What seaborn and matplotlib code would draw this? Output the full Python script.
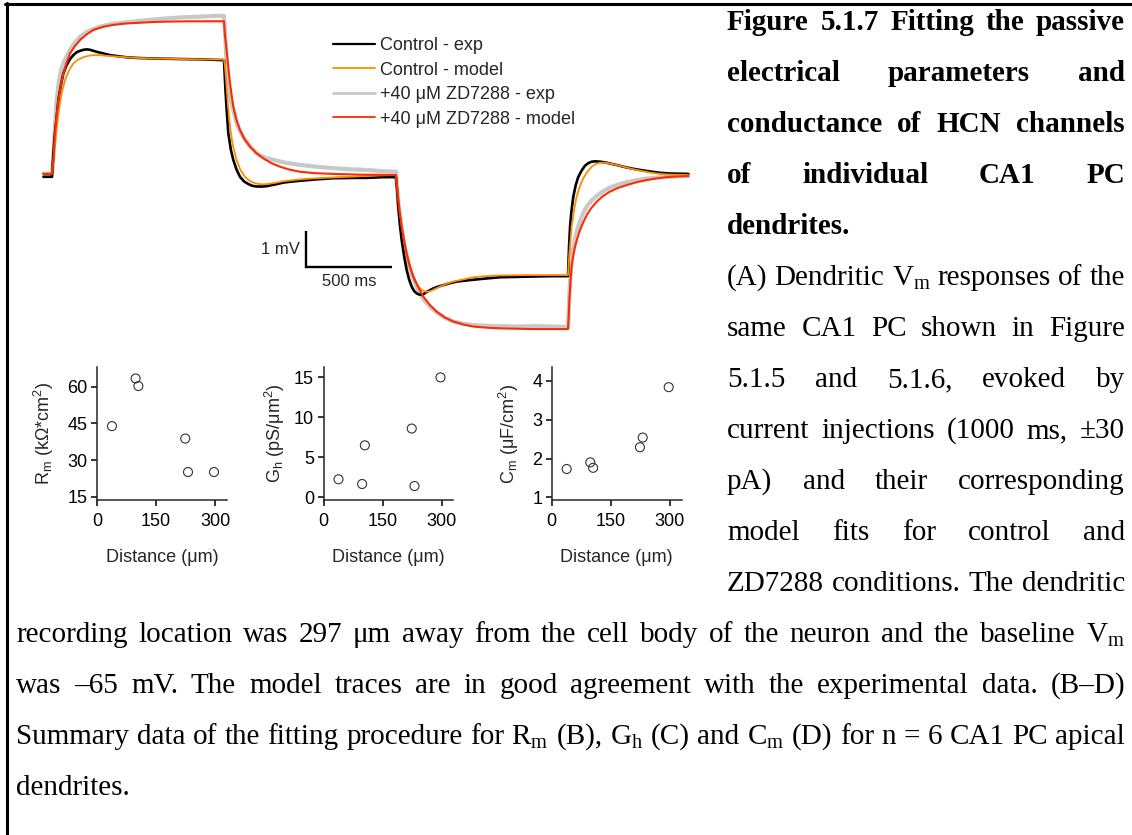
import matplotlib
matplotlib.use("Agg")
import matplotlib.pyplot as plt
import seaborn as sns
import pandas as pd
from matplotlib.lines import Line2D

# ---------------------------------------------------------------------------
# Dendritic Vm responses to +/-30 pA, 1000 ms steps (t in ms from first step
# onset, v = change from baseline in mV)
# ---------------------------------------------------------------------------
ctrl_exp_t = [-50, 0, 8, 17, 27, 37, 50, 66, 85, 105, 124, 143, 163, 185, 202, 220, 240, 260, 279,
              337, 400, 434, 500, 570, 650, 763, 880, 1000,
              1008, 1015, 1025, 1040, 1054, 1073, 1093, 1117, 1141, 1165, 1190, 1220, 1248, 1300,
              1345, 1400, 1442, 1540, 1636, 1750, 1830, 1920, 2000,
              2008, 2013, 2023, 2033, 2047, 2062, 2076, 2091, 2105, 2120, 2135, 2149, 2163, 2178,
              2197, 2217, 2245, 2275, 2310, 2353, 2410, 2469, 2535, 2605, 2700, 2798, 2900, 3000,
              3006, 3012, 3020, 3031, 3045, 3060, 3080, 3099, 3118, 3138, 3160, 3186, 3215, 3244,
              3280, 3322, 3370, 3419, 3475, 3535, 3600, 3700]
ctrl_exp_v = [-0.05, -0.05, 0.6, 1.16, 1.6, 2.08, 2.45, 2.82, 3.05, 3.22, 3.33, 3.41, 3.45, 3.48, 3.49, 3.48, 3.45, 3.42, 3.40,
              3.33, 3.29, 3.27, 3.25, 3.24, 3.23, 3.22, 3.21, 3.19,
              2.40, 1.85, 1.16, 0.70, 0.42, 0.15, -0.05, -0.18, -0.25, -0.30, -0.32, -0.32, -0.31, -0.26,
              -0.21, -0.18, -0.16, -0.12, -0.09, -0.08, -0.08, -0.06, -0.06,
              -0.50, -0.88, -1.40, -1.81, -2.25, -2.64, -2.90, -3.10, -3.22, -3.29, -3.32, -3.33, -3.30, -3.25,
              -3.20, -3.15, -3.10, -3.06, -3.01, -2.96, -2.93, -2.90, -2.87, -2.84, -2.83, -2.82, -2.81, -2.81,
              -2.00, -1.43, -1.00, -0.60, -0.28, -0.05, 0.13, 0.26, 0.33, 0.37, 0.38, 0.37, 0.35, 0.32,
              0.28, 0.23, 0.18, 0.14, 0.10, 0.06, 0.04, 0.03]

ctrl_model_t = [-50, 0, 8, 20, 37, 55, 76, 100, 124, 150, 182, 210, 240, 280, 318, 380, 434, 500, 570,
                660, 763, 880, 1000,
                1006, 1015, 1025, 1035, 1050, 1073, 1095, 1122, 1145, 1170, 1200, 1229, 1265, 1306,
                1350, 1403, 1470, 1539, 1630, 1733, 1850, 2000,
                2010, 2023, 2037, 2052, 2070, 2091, 2110, 2130, 2150, 2169, 2190, 2208, 2230, 2256,
                2290, 2333, 2390, 2450, 2520, 2605, 2750, 2900, 3000,
                3008, 3015, 3021, 3035, 3050, 3070, 3089, 3112, 3138, 3160, 3186, 3215, 3244, 3280,
                3322, 3370, 3419, 3475, 3535, 3600, 3700]
ctrl_model_v = [0.04, 0.04, 0.42, 0.95, 1.71, 2.25, 2.64, 2.92, 3.10, 3.20, 3.27, 3.31, 3.33, 3.33, 3.31, 3.29, 3.27, 3.25, 3.24,
                3.23, 3.22, 3.21, 3.21,
                3.01, 2.45, 1.85, 1.34, 0.85, 0.42, 0.15, -0.05, -0.15, -0.21, -0.25, -0.26, -0.24, -0.21,
                -0.17, -0.14, -0.11, -0.09, -0.07, -0.05, -0.02, 0.0,
                -0.50, -1.06, -1.55, -1.99, -2.40, -2.73, -2.95, -3.10, -3.19, -3.24, -3.24, -3.21, -3.16, -3.10,
                -3.03, -2.96, -2.90, -2.84, -2.81, -2.79, -2.78, -2.78, -2.78,
                -2.18, -1.80, -1.44, -0.98, -0.60, -0.30, -0.09, 0.09, 0.23, 0.30, 0.34, 0.34, 0.32, 0.28,
                0.23, 0.17, 0.12, 0.07, 0.03, 0.01, 0.0]

zd_exp_t = [-50, 0, 8, 17, 27, 40, 55, 70, 85, 105, 130, 163, 200, 240, 279, 350, 473, 570, 667, 760,
            860, 950, 1000,
            1008, 1016, 1030, 1054, 1080, 1112, 1150, 1190, 1240, 1287, 1360, 1442, 1540, 1636, 1730,
            1830, 1910, 2000,
            2005, 2013, 2022, 2033, 2047, 2062, 2080, 2101, 2130, 2159, 2195, 2237, 2285, 2333, 2390,
            2450, 2525, 2605, 2700, 2800, 2900, 3000,
            3004, 3008, 3014, 3021, 3030, 3041, 3055, 3070, 3089, 3109, 3135, 3167, 3205, 3244, 3290,
            3341, 3400, 3457, 3520, 3574, 3640, 3700]
zd_exp_v = [0.04, 0.04, 0.50, 1.30, 2.08, 2.60, 2.95, 3.15, 3.29, 3.48, 3.66, 3.84, 3.97, 4.05, 4.12, 4.20, 4.26, 4.31, 4.35, 4.38,
            4.40, 4.42, 4.42,
            3.80, 3.00, 2.30, 1.80, 1.35, 1.06, 0.80, 0.60, 0.48, 0.42, 0.34, 0.28, 0.23, 0.19, 0.16,
            0.14, 0.11, 0.09,
            -0.30, -0.75, -1.10, -1.50, -1.90, -2.25, -2.60, -2.90, -3.20, -3.45, -3.65, -3.82, -3.97, -4.07, -4.13,
            -4.17, -4.19, -4.20, -4.21, -4.20, -4.21, -4.22,
            -3.80, -3.30, -2.80, -2.40, -2.05, -1.78, -1.50, -1.28, -1.05, -0.88, -0.72, -0.58, -0.45, -0.35, -0.27,
            -0.20, -0.14, -0.10, -0.07, -0.05, -0.03, -0.02]

zd_model_t = [-50, 0, 8, 17, 27, 37, 50, 66, 85, 105, 130, 163, 200, 240, 300, 356, 430, 512, 590, 667,
              800, 1000,
              1005, 1015, 1025, 1035, 1045, 1054, 1073, 1093, 1120, 1151, 1190, 1229, 1275, 1326, 1380,
              1442, 1530, 1636, 1791, 2000,
              2005, 2013, 2022, 2033, 2047, 2062, 2080, 2101, 2130, 2159, 2195, 2237, 2285, 2333, 2390,
              2450, 2525, 2605, 2800, 3000,
              3004, 3008, 3014, 3021, 3030, 3041, 3055, 3070, 3089, 3109, 3135, 3167, 3205, 3244, 3290,
              3341, 3400, 3457, 3520, 3574, 3640, 3700]
zd_model_v = [0.03, 0.03, 0.42, 1.16, 1.65, 2.08, 2.45, 2.82, 3.12, 3.38, 3.56, 3.75, 3.90, 4.03, 4.12, 4.17, 4.21, 4.23, 4.25, 4.26,
              4.27, 4.27,
              3.90, 3.47, 3.00, 2.55, 2.20, 1.90, 1.52, 1.25, 0.99, 0.79, 0.60, 0.46, 0.33, 0.23, 0.15,
              0.09, 0.05, 0.03, 0.01, 0.0,
              -0.30, -0.69, -1.05, -1.44, -1.82, -2.18, -2.52, -2.82, -3.12, -3.38, -3.60, -3.80, -3.96, -4.07, -4.15,
              -4.21, -4.24, -4.26, -4.28, -4.28,
              -3.95, -3.47, -3.00, -2.55, -2.25, -1.99, -1.75, -1.53, -1.31, -1.11, -0.92, -0.74, -0.58, -0.46, -0.36,
              -0.28, -0.20, -0.14, -0.09, -0.06, -0.04, -0.03]

trace_labels = ["Control - exp", "Control - model", "+40 \u03bcM ZD7288 - exp", "+40 \u03bcM ZD7288 - model"]

# Summary of fitted parameters vs. recording distance from soma
distance_um = [38, 98, 105, 224, 231, 297]
rm_kohm_cm2 = [43.9, 63.4, 60.3, 38.8, 25.1, 25.1]
gh_ps_um2 = [2.25, 1.66, 6.5, 8.6, 1.41, 15.0]
cm_uf_cm2 = [1.73, 1.90, 1.76, 2.29, 2.54, 3.84]

rm_ticks = [15, 30, 45, 60]
gh_ticks = [0, 5, 10, 15]
cm_ticks = [1, 2, 3, 4]
dist_ticks = [0, 150, 300]

# ---------------------------------------------------------------------------
sns.set_style("ticks")
plt.rcParams["font.family"] = ["Liberation Sans", "DejaVu Sans"]
plt.rcParams["axes.linewidth"] = 1.1

W, H = 1132, 835
fig = plt.figure(figsize=(W / 100, H / 100), dpi=100)
fig.patch.set_facecolor("white")


def px_axes(l, t, r, b):
    return fig.add_axes([l / W, 1 - b / H, (r - l) / W, (b - t) / H])


# --- panel A: voltage traces -------------------------------------------------
X0, SX = 52.0, 0.172      # pixel of t=0, pixels per ms
Y0, SY = 175.0, 36.0      # pixel of 0 mV, pixels per mV
L, T, R, B = 30, 5, 700, 345
axA = px_axes(L, T, R, B)
axA.set_xlim((L - X0) / SX, (R - X0) / SX)
axA.set_ylim((Y0 - B) / SY, (Y0 - T) / SY)

colors = ["#000000", "#ff8c00", "#c8c8c8", "#ff2a00"]
widths = [1.9, 1.3, 3.0, 1.5]
traces = [(ctrl_exp_t, ctrl_exp_v), (ctrl_model_t, ctrl_model_v),
          (zd_exp_t, zd_exp_v), (zd_model_t, zd_model_v)]
zorders = [3, 4, 2, 5]
for (tt, vv), c, lw, z in zip(traces, colors, widths, zorders):
    df = pd.DataFrame({"t": tt, "v": vv})
    sns.lineplot(data=df, x="t", y="v", ax=axA, color=c, linewidth=lw,
                 estimator=None, sort=False, zorder=z)
axA.axis("off")

# scale bar: 500 ms x 1 mV
sb_t, sb_v = 1477, -2.56
axA.plot([sb_t, sb_t, sb_t + 500], [sb_v + 1, sb_v, sb_v], color="k", lw=1.7,
         solid_joinstyle="miter", solid_capstyle="butt")
axA.text(sb_t - 6 / SX, sb_v + 0.5, "1 mV", ha="right", va="center", fontsize=12)
axA.text(sb_t + 250, sb_v - 0.41, "500 ms", ha="center", va="center", fontsize=12)

handles = [Line2D([], [], color=c, lw=lw) for c, lw in zip(colors, [1.6, 1.3, 2.0, 1.3])]
axA.legend(handles, trace_labels, loc="upper left",
           bbox_to_anchor=(333 / W, 1 - 37 / H), bbox_transform=fig.transFigure,
           frameon=False, fontsize=13, handlelength=2.35, handletextpad=0.25,
           labelspacing=0.42, borderpad=0, borderaxespad=0)

# --- panels B-D: fitted parameters vs distance -------------------------------
panels = [
    (97.0, rm_kohm_cm2, rm_ticks, (13.65, 68.1),
     "R$_\\mathregular{m}$ (k\u03a9*cm$^\\mathregular{2}$)", 44),
    (323.5, gh_ps_um2, gh_ticks, (-0.34, 16.3),
     "G$_\\mathregular{h}$ (pS/\u03bcm$^\\mathregular{2}$)", 275),
    (551.7, cm_uf_cm2, cm_ticks, (0.93, 4.36),
     "C$_\\mathregular{m}$ (\u03bcF/cm$^\\mathregular{2}$)", 509),
]
for left, vals, yt, ylim, ylab, ylab_x in panels:
    ax = px_axes(left, 367, left + 130, 500)
    sns.scatterplot(x=distance_um, y=vals, ax=ax, marker="o", s=42,
                    facecolor="none", edgecolor="#333333", linewidth=0.8)
    ax.set_xlim(0, 330)
    ax.set_ylim(*ylim)
    ax.set_xticks(dist_ticks)
    ax.set_yticks(yt)
    sns.despine(ax=ax)
    ax.tick_params(axis="both", direction="out", length=4.3, width=1.1,
                   labelsize=13, color="k", labelcolor="k")
    ax.tick_params(axis="y", pad=2.5)
    ax.tick_params(axis="x", pad=5)
    ax.set_xlabel("Distance (\u03bcm)", fontsize=13)
    ax.set_ylabel(ylab, fontsize=13)
    ax.xaxis.set_label_coords(0.5, -(557 - 500) / 133)
    ax.xaxis.label.set_va("center")
    ax.yaxis.set_label_coords((ylab_x - left) / 130, 0.5)
    ax.yaxis.label.set_va("center")

# --- frame lines -------------------------------------------------------------
fig.add_artist(Line2D([5 / W, 1], [1 - 4 / H, 1 - 4 / H], transform=fig.transFigure,
                      color="k", lw=2.2))
fig.add_artist(Line2D([6.5 / W, 6.5 / W], [0, 1 - 3 / H], transform=fig.transFigure,
                      color="k", lw=2.2))

# --- caption (justified) -----------------------------------------------------
serif = ["Liberation Serif", "DejaVu Serif"]
FS = 21
renderer = fig.canvas.get_renderer()


def caption_line(text, base_y, x0, x1, justify, weight="normal"):
    words = text.split(" ")
    arts = [fig.text(0, 1 - base_y / H, w, ha="left", va="baseline", fontsize=FS,
                     family=serif, weight=weight, color="black") for w in words]
    ws = [a.get_window_extent(renderer).width for a in arts]
    if justify and len(arts) > 1:
        gap = (x1 - x0 - sum(ws)) / (len(arts) - 1)
    else:
        gap = 0.25 * FS * 100 / 72
    x = x0
    for a, w in zip(arts, ws):
        a.set_x(x / W)
        x += w + gap


title_lines = [
    "Figure 5.1.7 Fitting the passive",
    "electrical parameters and",
    "conductance of HCN channels",
    "of individual CA1 PC",
    "dendrites.",
]
body_right = [
    "(A) Dendritic V$_\\mathregular{m}$ responses of the",
    "same CA1 PC shown in Figure",
    "5.1.5 and 5.1.6, evoked by",
    "current injections (1000 ms, \u00b130",
    "pA) and their corresponding",
    "model fits for control and",
    "ZD7288 conditions. The dendritic",
]
body_full = [
    "recording location was 297 \u03bcm away from the cell body of the neuron and the baseline V$_\\mathregular{m}$",
    "was \u201365 mV. The model traces are in good agreement with the experimental data. (B\u2013D)",
    "Summary data of the fitting procedure for R$_\\mathregular{m}$ (B), G$_\\mathregular{h}$ (C) and "
    "C$_\\mathregular{m}$ (D) for n = 6 CA1 PC apical",
    "dendrites.",
]

BASE0, PITCH = 30.0, 51.0
i = 0
for k, line in enumerate(title_lines):
    caption_line(line, BASE0 + PITCH * i, 727, 1125, k < len(title_lines) - 1, weight="bold")
    i += 1
for line in body_right:
    caption_line(line, BASE0 + PITCH * i, 727, 1125, True)
    i += 1
for k, line in enumerate(body_full):
    caption_line(line, BASE0 + PITCH * i, 16, 1125, k < len(body_full) - 1)
    i += 1

fig.savefig("out.png", dpi=100, facecolor="white")
